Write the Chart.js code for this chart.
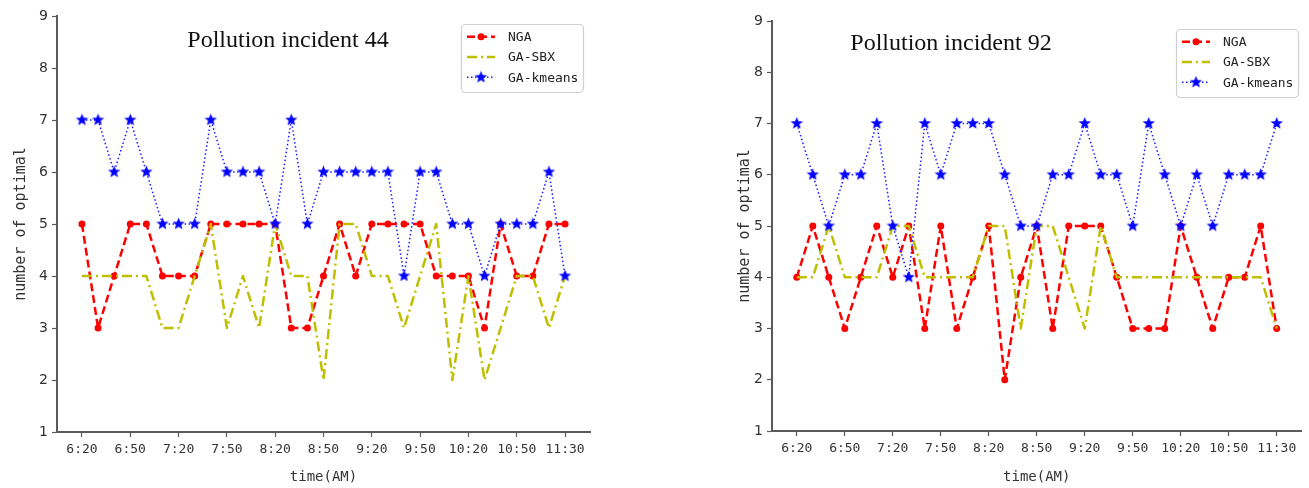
<!DOCTYPE html>
<html><head><meta charset="utf-8">
<script src="https://cdn.jsdelivr.net/npm/chart.js@4.4.1/dist/chart.umd.min.js"></script>
<style>
html,body{margin:0;padding:0;background:#fff;width:1309px;height:488px;overflow:hidden}
canvas{position:absolute;top:0}
#c1{left:0}
#c2{left:700px}
</style></head><body>
<canvas id="c1" width="650" height="488"></canvas>
<canvas id="c2" width="609" height="488"></canvas>
<script>
// ---- data ----
const categories = ['6:20','6:30','6:40','6:50','7:00','7:10','7:20','7:30','7:40','7:50','8:00','8:10','8:20','8:30','8:40','8:50','9:00','9:10','9:20','9:30','9:40','9:50','10:00','10:10','10:20','10:30','10:40','10:50','11:03','11:17','11:30'];
const tickLabels = ['6:20','6:50','7:20','7:50','8:20','8:50','9:20','9:50','10:20','10:50','11:30'];
const seriesNames = ['NGA','GA-SBX','GA-kmeans'];
const titles = ['Pollution incident 44','Pollution incident 92'];

const nga44    = [5,3,4,5,5,4,4,4,5,5,5,5,5,3,3,4,5,4,5,5,5,5,4,4,4,3,5,4,4,5,5];
const gasbx44  = [4,4,4,4,4,3,3,4,5,3,4,3,5,4,4,2,5,5,4,4,3,4,5,2,4,2,3,4,4,3,4];
const kmeans44 = [7,7,6,7,6,5,5,5,7,6,6,6,5,7,5,6,6,6,6,6,4,6,6,5,5,4,5,5,5,6,4];

const nga92    = [4,5,4,3,4,5,4,5,3,5,3,4,5,2,4,5,3,5,5,5,4,3,3,3,5,4,3,4,4,5,3];
const gasbx92  = [4,4,5,4,4,4,5,5,4,4,4,4,5,5,3,5,5,4,3,5,4,4,4,4,4,4,4,4,4,4,3];
const kmeans92 = [7,6,5,6,6,7,5,4,7,6,7,7,7,6,5,5,6,6,7,6,6,5,7,6,5,6,5,6,6,6,7];

// ---- styles ----
const RED = '#ff0000', YEL = '#bfbf00', BLUE = '#1a1aff';
const DASH = { nga:[8,4], sbx:[10,4,2,4], km:[1.5,2.5] };

function makeStar(rOut, rIn, color) {
  const s = Math.ceil(rOut*2+2);
  const c = document.createElement('canvas');
  c.width = s; c.height = s;
  const g = c.getContext('2d');
  g.beginPath();
  for (let k = 0; k < 10; k++) {
    const r = k % 2 === 0 ? rOut : rIn;
    const a = -Math.PI/2 + k*Math.PI/5;
    const x = s/2 + r*Math.cos(a), y = s/2 + r*Math.sin(a);
    k === 0 ? g.moveTo(x,y) : g.lineTo(x,y);
  }
  g.closePath();
  g.fillStyle = color; g.fill();
  return c;
}
const starImg = makeStar(6.5, 2.8, '#0000ff');

const whiteBg = {
  id:'whiteBg',
  beforeDraw(chart){ const c=chart.ctx; c.save(); c.fillStyle='#fff'; c.fillRect(0,0,chart.width,chart.height); c.restore(); }
};

const overlay = {
  id:'overlay',
  afterDraw(chart, args, opts){
    const ctx = chart.ctx, ca = chart.chartArea;
    ctx.save();
    // title
    ctx.font = '24px "Liberation Serif", "Times New Roman", serif';
    ctx.fillStyle = '#111';
    ctx.textAlign = 'center';
    ctx.textBaseline = 'alphabetic';
    ctx.fillText(opts.title, ca.left + opts.titleDx, ca.top + opts.titleDy);
    // legend
    const bx = ca.left + opts.legDx, by = ca.top + opts.legDy, bw = 122, bh = 68;
    ctx.fillStyle = '#fff';
    ctx.strokeStyle = '#d0d0d0';
    ctx.lineWidth = 1.2;
    ctx.beginPath();
    if (ctx.roundRect) ctx.roundRect(bx+0.5, by+0.5, bw, bh, 4); else ctx.rect(bx+0.5, by+0.5, bw, bh);
    ctx.fill(); ctx.stroke();
    const rows = [
      {name: seriesNames[0], color: RED, dash: DASH.nga, lw: 2.5, marker: 'circle'},
      {name: seriesNames[1], color: YEL, dash: DASH.sbx, lw: 2.5, marker: null},
      {name: seriesNames[2], color: BLUE, dash: DASH.km, lw: 1.5, marker: 'star'}
    ];
    rows.forEach((r, k) => {
      const yy = by + 12.7 + k*20.3;
      const x0 = bx + 6, x1 = bx + 34;
      ctx.strokeStyle = r.color; ctx.lineWidth = r.lw; ctx.setLineDash(r.dash);
      ctx.beginPath(); ctx.moveTo(x0, yy); ctx.lineTo(x1, yy); ctx.stroke();
      ctx.setLineDash([]);
      const cx = (x0 + x1)/2;
      if (r.marker === 'circle') { ctx.fillStyle = r.color; ctx.beginPath(); ctx.arc(cx, yy, 3.5, 0, Math.PI*2); ctx.fill(); }
      if (r.marker === 'star') { ctx.drawImage(starImg, cx - starImg.width/2, yy - starImg.height/2); }
      ctx.fillStyle = '#222';
      ctx.font = '13px "DejaVu Sans Mono", monospace';
      ctx.textAlign = 'left'; ctx.textBaseline = 'middle';
      ctx.fillText(r.name, bx + 47, yy + 1);
    });
    ctx.restore();
  }
};

function pts(arr){ return arr.map((v,i)=>({x:i, y:v})); }

function makeChart(id, nga, sbx, km, L) {
  const tickIdx = tickLabels.map(t => categories.indexOf(t));
  return new Chart(document.getElementById(id), {
    type: 'line',
    data: {
      datasets: [
        { label: seriesNames[0], data: pts(nga), borderColor: RED, backgroundColor: RED, borderWidth: 2.5,
          borderDash: DASH.nga, borderJoinStyle: 'round', pointStyle: 'circle', pointRadius: 3.5, pointBorderWidth: 0, order: 3, tension: 0 },
        { label: seriesNames[1], data: pts(sbx), borderColor: YEL, backgroundColor: YEL, borderWidth: 2.5,
          borderDash: DASH.sbx, borderJoinStyle: 'round', pointRadius: 0, order: 2, tension: 0 },
        { label: seriesNames[2], data: pts(km), borderColor: BLUE, backgroundColor: BLUE, borderWidth: 1.5,
          borderDash: DASH.km, borderJoinStyle: 'round', pointStyle: starImg, pointRadius: 6, order: 1, tension: 0 }
      ]
    },
    options: {
      responsive: false, animation: false, events: [],
      layout: { padding: { left: L.padL, right: L.padR, top: L.padT, bottom: 0 } },
      plugins: { legend: { display: false }, tooltip: { enabled: false },
        overlay: { title: L.title, titleDx: L.titleDx, titleDy: L.titleDy, legDx: 404, legDy: 8 } },
      scales: {
        x: {
          type: 'linear', min: -1.55, max: 31.55,
          afterBuildTicks: ax => { ax.ticks = tickIdx.map(v => ({ value: v })); },
          afterFit: s => { s.height = L.xH; },
          border: { display: true, color: '#5a5a5a', width: 2 },
          grid: { drawOnChartArea: false, drawTicks: true, tickLength: 5, tickColor: '#5a5a5a', tickWidth: 1.2 },
          ticks: { autoSkip: false, maxRotation: 0, padding: 5, color: '#333',
            font: { family: '"DejaVu Sans Mono", monospace', size: 13 },
            callback: (v) => categories[v] },
          title: { display: true, text: 'time(AM)', color: '#333',
            font: { family: '"DejaVu Sans Mono", monospace', size: 14 }, padding: { top: 0, bottom: 2 } }
        },
        y: {
          min: 1, max: 9,
          afterFit: s => { s.width = 57; },
          border: { display: true, color: '#5a5a5a', width: 2 },
          grid: { drawOnChartArea: false, drawTicks: true, tickLength: 5, tickColor: '#5a5a5a', tickWidth: 1.2 },
          ticks: { stepSize: 1, padding: 4, color: '#333',
            font: { family: '"DejaVu Sans", sans-serif', size: 14 } },
          title: { display: true, text: 'number of optimal', color: '#333',
            font: { family: '"DejaVu Sans Mono", monospace', size: 15 }, padding: { top: L.yTitlePad, bottom: 0 } }
        }
      }
    },
    plugins: [whiteBg, overlay]
  });
}

makeChart('c1', nga44, gasbx44, kmeans44,
  { padL: 0, padR: 60, padT: 16, xH: 56, yTitlePad: 11.7, title: titles[0], titleDx: 231, titleDy: 31 });
makeChart('c2', nga92, gasbx92, kmeans92,
  { padL: 15, padR: 4, padT: 21, xH: 57, yTitlePad: 21, title: titles[1], titleDx: 179, titleDy: 29 });
</script>
</body></html>
